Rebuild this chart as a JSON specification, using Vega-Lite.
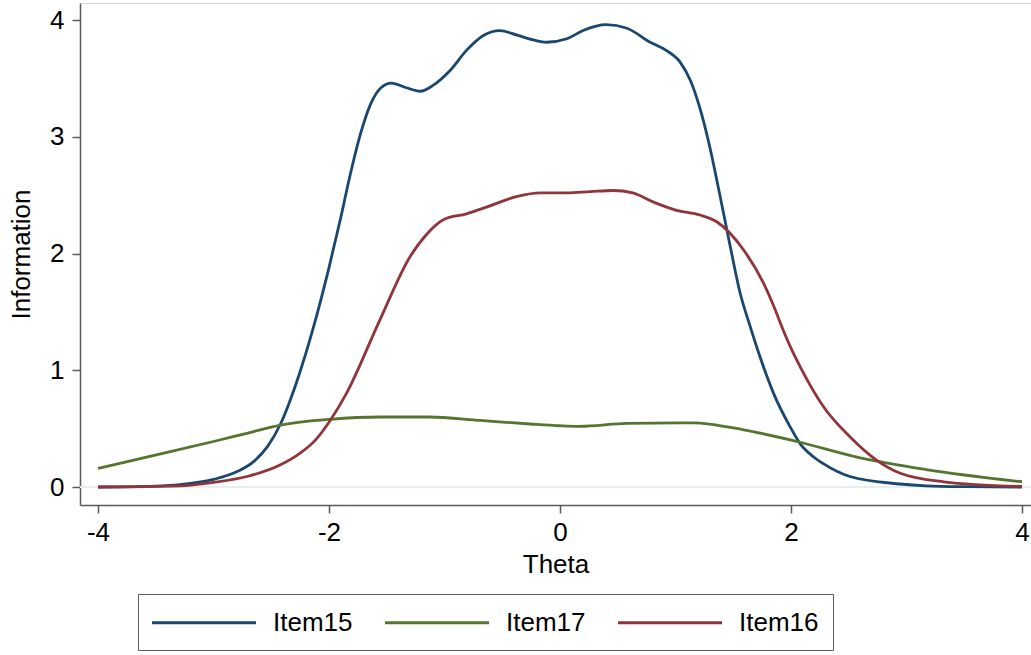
{
  "$schema": "https://vega.github.io/schema/vega-lite/v6.json",
  "width": 951,
  "height": 502,
  "autosize": {"type": "none"},
  "padding": {"left": 80, "top": 3, "right": 0, "bottom": 150},
  "background": "white",
  "config": {
    "font": "Liberation Sans",
    "view": {"stroke": "#d4d4d4", "strokeWidth": 1},
    "axis": {
      "grid": false,
      "domainColor": "#5a5a5a",
      "domainWidth": 1.5,
      "tickColor": "#5a5a5a",
      "tickWidth": 1.5,
      "tickSize": 8,
      "labelFontSize": 26,
      "labelColor": "#000000",
      "labelFont": "Liberation Sans",
      "titleFontSize": 26,
      "titleFontWeight": "normal",
      "titleColor": "#000000",
      "titleFont": "Liberation Sans"
    }
  },
  "data": {
    "values": [
      {"item": "Item15", "theta": -4, "info": 0},
      {"item": "Item15", "theta": -3.5, "info": 0.008},
      {"item": "Item15", "theta": -3.29, "info": 0.02},
      {"item": "Item15", "theta": -3.0, "info": 0.065},
      {"item": "Item15", "theta": -2.8, "info": 0.13},
      {"item": "Item15", "theta": -2.65, "info": 0.22},
      {"item": "Item15", "theta": -2.53, "info": 0.35},
      {"item": "Item15", "theta": -2.42, "info": 0.54},
      {"item": "Item15", "theta": -2.28, "info": 0.90},
      {"item": "Item15", "theta": -2.14, "info": 1.35},
      {"item": "Item15", "theta": -2.0, "info": 1.88},
      {"item": "Item15", "theta": -1.9, "info": 2.3},
      {"item": "Item15", "theta": -1.82, "info": 2.66},
      {"item": "Item15", "theta": -1.72, "info": 3.05},
      {"item": "Item15", "theta": -1.64, "info": 3.28},
      {"item": "Item15", "theta": -1.55, "info": 3.42},
      {"item": "Item15", "theta": -1.46, "info": 3.46},
      {"item": "Item15", "theta": -1.33, "info": 3.42},
      {"item": "Item15", "theta": -1.21, "info": 3.39},
      {"item": "Item15", "theta": -1.10, "info": 3.44},
      {"item": "Item15", "theta": -0.95, "info": 3.57},
      {"item": "Item15", "theta": -0.81, "info": 3.74},
      {"item": "Item15", "theta": -0.66, "info": 3.87},
      {"item": "Item15", "theta": -0.52, "info": 3.91},
      {"item": "Item15", "theta": -0.37, "info": 3.87},
      {"item": "Item15", "theta": -0.23, "info": 3.83},
      {"item": "Item15", "theta": -0.12, "info": 3.81},
      {"item": "Item15", "theta": 0.06, "info": 3.84},
      {"item": "Item15", "theta": 0.20, "info": 3.91},
      {"item": "Item15", "theta": 0.40, "info": 3.96},
      {"item": "Item15", "theta": 0.58, "info": 3.93},
      {"item": "Item15", "theta": 0.78, "info": 3.81},
      {"item": "Item15", "theta": 0.92, "info": 3.74},
      {"item": "Item15", "theta": 1.04, "info": 3.64},
      {"item": "Item15", "theta": 1.13, "info": 3.48},
      {"item": "Item15", "theta": 1.21, "info": 3.25},
      {"item": "Item15", "theta": 1.30, "info": 2.90},
      {"item": "Item15", "theta": 1.38, "info": 2.52},
      {"item": "Item15", "theta": 1.47, "info": 2.08},
      {"item": "Item15", "theta": 1.56, "info": 1.66},
      {"item": "Item15", "theta": 1.645, "info": 1.38},
      {"item": "Item15", "theta": 1.73, "info": 1.12},
      {"item": "Item15", "theta": 1.85, "info": 0.80},
      {"item": "Item15", "theta": 1.99, "info": 0.52},
      {"item": "Item15", "theta": 2.08, "info": 0.37},
      {"item": "Item15", "theta": 2.18, "info": 0.27},
      {"item": "Item15", "theta": 2.28, "info": 0.20},
      {"item": "Item15", "theta": 2.51, "info": 0.09},
      {"item": "Item15", "theta": 2.94, "info": 0.026},
      {"item": "Item15", "theta": 3.17, "info": 0.01},
      {"item": "Item15", "theta": 3.5, "info": 0.003},
      {"item": "Item15", "theta": 4, "info": 0},
      {"item": "Item17", "theta": -4, "info": 0.16},
      {"item": "Item17", "theta": -3.43, "info": 0.29},
      {"item": "Item17", "theta": -3.0, "info": 0.39},
      {"item": "Item17", "theta": -2.71, "info": 0.46},
      {"item": "Item17", "theta": -2.42, "info": 0.53},
      {"item": "Item17", "theta": -1.99, "info": 0.58},
      {"item": "Item17", "theta": -1.56, "info": 0.60},
      {"item": "Item17", "theta": -1.13, "info": 0.60},
      {"item": "Item17", "theta": -0.69, "info": 0.57},
      {"item": "Item17", "theta": -0.26, "info": 0.54},
      {"item": "Item17", "theta": 0.0, "info": 0.525},
      {"item": "Item17", "theta": 0.17, "info": 0.52},
      {"item": "Item17", "theta": 0.58, "info": 0.545},
      {"item": "Item17", "theta": 1.15, "info": 0.55},
      {"item": "Item17", "theta": 1.59, "info": 0.49},
      {"item": "Item17", "theta": 2.05, "info": 0.39},
      {"item": "Item17", "theta": 2.6, "info": 0.25},
      {"item": "Item17", "theta": 3.17, "info": 0.15},
      {"item": "Item17", "theta": 4, "info": 0.045},
      {"item": "Item16", "theta": -4, "info": 0},
      {"item": "Item16", "theta": -3.29, "info": 0.01},
      {"item": "Item16", "theta": -3.0, "info": 0.04},
      {"item": "Item16", "theta": -2.71, "info": 0.09},
      {"item": "Item16", "theta": -2.42, "info": 0.19},
      {"item": "Item16", "theta": -2.25, "info": 0.29},
      {"item": "Item16", "theta": -2.12, "info": 0.40},
      {"item": "Item16", "theta": -1.99, "info": 0.57},
      {"item": "Item16", "theta": -1.85, "info": 0.80},
      {"item": "Item16", "theta": -1.56, "info": 1.43},
      {"item": "Item16", "theta": -1.30, "info": 1.97},
      {"item": "Item16", "theta": -1.15, "info": 2.17},
      {"item": "Item16", "theta": -1.01, "info": 2.29},
      {"item": "Item16", "theta": -0.81, "info": 2.34},
      {"item": "Item16", "theta": -0.63, "info": 2.40},
      {"item": "Item16", "theta": -0.37, "info": 2.49},
      {"item": "Item16", "theta": -0.17, "info": 2.52},
      {"item": "Item16", "theta": 0.06, "info": 2.52},
      {"item": "Item16", "theta": 0.26, "info": 2.53},
      {"item": "Item16", "theta": 0.46, "info": 2.54},
      {"item": "Item16", "theta": 0.63, "info": 2.52},
      {"item": "Item16", "theta": 0.81, "info": 2.44},
      {"item": "Item16", "theta": 1.01, "info": 2.37},
      {"item": "Item16", "theta": 1.21, "info": 2.33},
      {"item": "Item16", "theta": 1.36, "info": 2.27},
      {"item": "Item16", "theta": 1.59, "info": 2.03},
      {"item": "Item16", "theta": 1.76, "info": 1.75},
      {"item": "Item16", "theta": 1.85, "info": 1.55},
      {"item": "Item16", "theta": 1.93, "info": 1.35},
      {"item": "Item16", "theta": 2.0, "info": 1.19},
      {"item": "Item16", "theta": 2.08, "info": 1.03},
      {"item": "Item16", "theta": 2.28, "info": 0.69},
      {"item": "Item16", "theta": 2.51, "info": 0.43},
      {"item": "Item16", "theta": 2.74, "info": 0.23},
      {"item": "Item16", "theta": 2.94, "info": 0.12},
      {"item": "Item16", "theta": 3.32, "info": 0.045},
      {"item": "Item16", "theta": 4, "info": 0.005}
    ]
  },
  "layer": [
    {
      "mark": {"type": "rule", "color": "#e6eef0", "strokeWidth": 2},
      "encoding": {"y": {"datum": 0, "type": "quantitative"}}
    },
    {
      "mark": {"type": "line", "interpolate": "monotone", "strokeWidth": 2.8},
      "encoding": {
        "x": {
          "field": "theta",
          "type": "quantitative",
          "scale": {"domain": [-4.156, 4.078], "nice": false, "zero": false},
          "axis": {"values": [-4, -2, 0, 2, 4], "labelExpr": "'' + datum.value", "title": "Theta", "labelPadding": 6, "titlePadding": 6}
        },
        "y": {
          "field": "info",
          "type": "quantitative",
          "scale": {"domain": [-0.154, 4.146], "nice": false, "zero": false},
          "axis": {"values": [0, 1, 2, 3, 4], "labelExpr": "'' + datum.value", "title": "Information", "labelPadding": 8, "titlePadding": 15}
        },
        "color": {
          "field": "item",
          "type": "nominal",
          "scale": {"domain": ["Item15", "Item17", "Item16"], "range": ["#1a476f", "#55752f", "#90353b"]},
          "legend": {
            "title": null,
            "orient": "none",
            "legendX": 58,
            "legendY": 591,
            "direction": "horizontal",
            "columns": 3,
            "symbolType": "M-4,0H4",
            "symbolSize": 676,
            "symbolStrokeWidth": 3,
            "symbolOffset": 37.5,
            "labelFontSize": 26,
            "labelFont": "Liberation Sans",
            "labelColor": "#000000",
            "labelOffset": 54.5,
            "columnPadding": 26,
            "padding": 14,
            "strokeColor": "#5a5a5a",
            "fillColor": "white"
          }
        },
        "order": {"field": "theta", "type": "quantitative"}
      }
    }
  ]
}
